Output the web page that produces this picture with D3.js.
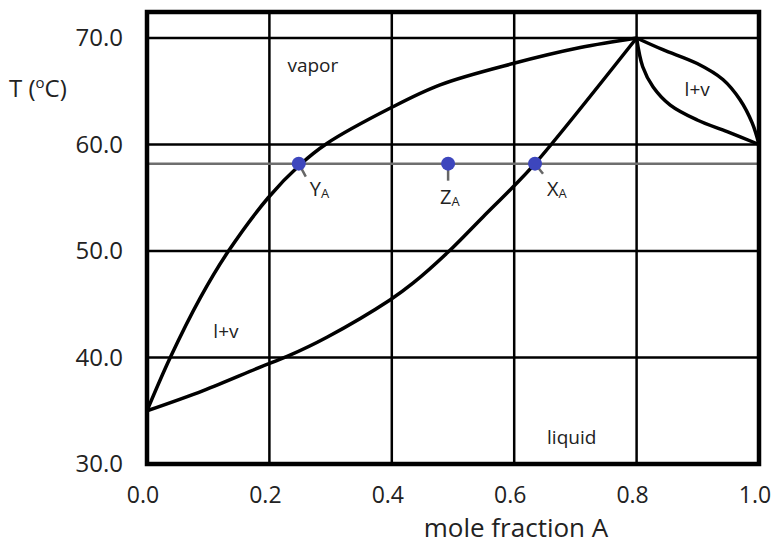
<!DOCTYPE html>
<html>
<head>
<meta charset="UTF-8">
<title>T-x diagram</title>
<script src="https://d3js.org/d3.v7.min.js"></script>
<style>
  body { margin: 0; background: #fff; }
  text { font-family: "Open Sans", sans-serif; fill: #222; }
</style>
</head>
<body>
<svg id="chart" width="771" height="544"></svg>
<script>
// values
var xTicks = [0.0, 0.2, 0.4, 0.6, 0.8, 1.0];
var yTicks = [30, 40, 50, 60, 70];

// upper (vapor) curve, 0 -> 0.8
var vaporX = [0, 0.038, 0.087, 0.132, 0.198, 0.25, 0.294, 0.397, 0.479, 0.598, 0.708, 0.8];
var vaporT = [35, 40, 45.6, 49.9, 55.0, 58.1, 60.1, 63.4, 65.6, 67.6, 69.1, 70];

// lower (liquid) curve, 0 -> 0.8
var liquidX = [0, 0.092, 0.185, 0.229, 0.294, 0.397, 0.435, 0.492, 0.549, 0.596, 0.634, 0.8];
var liquidT = [35, 36.9, 39.1, 40.1, 41.9, 45.4, 47.0, 49.9, 53.2, 55.9, 58.2, 70];

// right hand lobe, 0.8 -> 1.0
var lobeTopX = [0.8, 0.843, 0.899, 0.941, 0.969, 0.989, 1.0];
var lobeTopT = [70, 68.9, 67.6, 66.1, 64.2, 62.0, 60];
var lobeBotX = [0.8, 0.810, 0.827, 0.855, 0.899, 0.948, 1.0];
var lobeBotT = [70, 67.3, 65.4, 63.7, 62.3, 61.2, 60];

// tie line and the three points on it
var tieT = 58.2;
var pointNames = ["Y", "Z", "X"];
var pointX = [0.248, 0.492, 0.634];

var regionNames = ["vapor", "l+v", "l+v", "liquid"];
var regionX = [0.271, 0.129, 0.899, 0.694];
var regionT = [66.8, 41.8, 64.55, 31.9];

var svg = d3.select("#chart");

var x = d3.scaleLinear().domain([0, 1]).range([147, 759]);
var y = d3.scaleLinear().domain([30, 70]).range([464, 38]);
var frameTop = 12;

// grid
svg.append("g").selectAll("line")
  .data(xTicks.filter(function(d) { return d > 0 && d < 1; }))
  .enter().append("line")
  .attr("x1", function(d) { return x(d); })
  .attr("x2", function(d) { return x(d); })
  .attr("y1", frameTop).attr("y2", y(30))
  .attr("stroke", "#000").attr("stroke-width", 2.5);

svg.append("g").selectAll("line")
  .data(yTicks.filter(function(d) { return d > 30; }))
  .enter().append("line")
  .attr("x1", x(0)).attr("x2", x(1))
  .attr("y1", function(d) { return y(d); })
  .attr("y2", function(d) { return y(d); })
  .attr("stroke", "#000").attr("stroke-width", 2.5);

// tie line
svg.append("line")
  .attr("x1", x(0)).attr("x2", x(1) + 2)
  .attr("y1", y(tieT)).attr("y2", y(tieT))
  .attr("stroke", "#6e6e6e").attr("stroke-width", 2.5);

// curves
function pts(xs, ts) { return xs.map(function(v, i) { return [v, ts[i]]; }); }
var line = d3.line()
  .x(function(d) { return x(d[0]); })
  .y(function(d) { return y(d[1]); })
  .curve(d3.curveCatmullRom.alpha(0.5));

[pts(vaporX, vaporT), pts(liquidX, liquidT), pts(lobeTopX, lobeTopT), pts(lobeBotX, lobeBotT)]
  .forEach(function(p) {
    svg.append("path").attr("d", line(p))
      .attr("fill", "none").attr("stroke", "#000")
      .attr("stroke-width", 3.5).attr("stroke-linejoin", "round");
  });

// frame
svg.append("rect")
  .attr("x", x(0)).attr("y", frameTop)
  .attr("width", x(1) - x(0)).attr("height", y(30) - frameTop)
  .attr("fill", "none").attr("stroke", "#000").attr("stroke-width", 4.5);

// points with little leader marks and labels
var leadDx = [7, 0, 8];
var leadDy = [13, 17, 10];
var labDx = [11, -8, 12];
var labDy = [32, 40, 32];
pointX.forEach(function(px, i) {
  var cx = x(px), cy = y(tieT);
  svg.append("line")
    .attr("x1", cx).attr("y1", cy)
    .attr("x2", cx + leadDx[i]).attr("y2", cy + leadDy[i])
    .attr("stroke", "#666").attr("stroke-width", 2.5);
  svg.append("circle").attr("cx", cx).attr("cy", cy).attr("r", 7)
    .attr("fill", "#3d46bd");
  var t = svg.append("text")
    .attr("x", cx + labDx[i]).attr("y", cy + labDy[i])
    .attr("font-size", 20);
  t.append("tspan").text(pointNames[i]);
  t.append("tspan").attr("font-size", 13).attr("dy", 2).text("A");
});

// region labels
svg.append("g").selectAll("text")
  .data(regionNames)
  .enter().append("text")
  .attr("x", function(d, i) { return x(regionX[i]); })
  .attr("y", function(d, i) { return y(regionT[i]); })
  .attr("text-anchor", "middle")
  .attr("font-size", 19)
  .text(function(d) { return d; });

// tick labels
svg.append("g").selectAll("text")
  .data(xTicks)
  .enter().append("text")
  .attr("x", function(d) { return x(d) - 4; })
  .attr("y", 503)
  .attr("text-anchor", "middle")
  .attr("font-size", 23)
  .text(function(d) { return d3.format(".1f")(d); });

svg.append("g").selectAll("text")
  .data(yTicks)
  .enter().append("text")
  .attr("x", 123)
  .attr("y", function(d) { return y(d) + 8; })
  .attr("text-anchor", "end")
  .attr("font-size", 24)
  .text(function(d) { return d3.format(".1f")(d); });

// axis titles
svg.append("text")
  .attr("x", 516).attr("y", 537)
  .attr("text-anchor", "middle").attr("font-size", 26)
  .text("mole fraction A");

var yt = svg.append("text").attr("x", 9).attr("y", 97).attr("font-size", 24);
yt.append("tspan").text("T (");
yt.append("tspan").attr("font-size", 15).attr("dy", -9).text("o");
yt.append("tspan").attr("dy", 9).text("C)");
</script>
</body>
</html>
